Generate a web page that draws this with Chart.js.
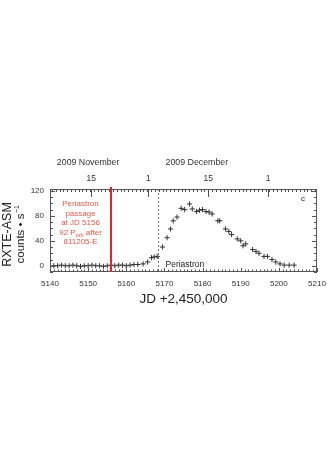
<!DOCTYPE html>
<html lang="en">
<head>
  <meta charset="UTF-8" />
  <title>RXTE-ASM light curve</title>
  <script src="https://cdn.jsdelivr.net/npm/chart.js"></script>
  <style>
    html, body { margin: 0; padding: 0; background: #fff; }
    #wrap { width: 327px; height: 463px; }
  </style>
</head>
<body>
<div id="wrap"><canvas id="asmChart" width="327" height="463"></canvas></div>
<script>
// JD - 2,450,000 and ASM count rates
const jd = [
  5141, 5142, 5143, 5144, 5145, 5146, 5147, 5148, 5149, 5150, 5151, 5152,
  5153, 5154, 5155, 5156, 5157, 5158, 5159, 5160, 5161, 5162, 5163,
  5164.4, 5165.6, 5166.6, 5167.3, 5168.1, 5169.5, 5170.7, 5171.6, 5172.3,
  5173.3, 5174.4, 5175.3, 5176.6, 5177.3, 5178.4, 5179.2, 5180.0, 5180.9,
  5181.7, 5182.5, 5184.0, 5184.5, 5186.0, 5186.9, 5187.6, 5189.1, 5190.0,
  5190.6, 5191.3, 5193.1, 5194.0, 5194.8, 5196.1, 5197.0, 5198.2, 5199.2,
  5200.3, 5201.4, 5202.7, 5204.0
];
const counts = [
  0, 0, 1, 0, 0, 1, 0, -1, 0, 0, 1, 0,
  0, -1, 0, 1, 0, 1, 1, 0, 1, 2, 2,
  3, 6, 13, 14, 15, 30, 45, 59, 72,
  78, 92, 90, 99, 91, 87, 89, 90, 87,
  86, 83, 72, 72, 59, 55, 50, 43, 40,
  32, 35, 26, 23, 20, 15, 15, 10, 6,
  3, 1, 1, 1
];

const xTicks = [5140, 5150, 5160, 5170, 5180, 5190, 5200, 5210];
const yTicks = [0, 40, 80, 120];
const topTickJD = [5150.8, 5165.8, 5181.5, 5197.2];
const topTickLabels = ['15', '1', '15', '1'];
const monthLabels = ['2009 November', '2009 December'];
const monthJD = [5150, 5178.5];
const redLineJD = 5156;
const periastronJD = 5168.2;
const noteLines = ['Periastron', 'passage', 'at JD 5156', '92 P|orb| after', '811205-E'];

const FONT = '"Liberation Sans", Arial, Helvetica, sans-serif';

const decorations = {
  id: 'decorations',
  afterDraw(chart) {
    const ctx = chart.ctx;
    const a = chart.chartArea;
    const x = chart.scales.x, y = chart.scales.y;
    ctx.save();

    // frame
    ctx.strokeStyle = '#555';
    ctx.lineWidth = 1;
    ctx.strokeRect(a.left + 0.5, a.top + 0.5, a.right - a.left - 1, a.bottom - a.top - 1);

    // minor ticks bottom / top
    ctx.beginPath();
    for (let v = 5140; v <= 5210; v++) {
      const px = Math.round(x.getPixelForValue(v)) + 0.5;
      const len = v % 10 === 0 ? 4 : 2.5;
      ctx.moveTo(px, a.bottom); ctx.lineTo(px, a.bottom - len);
    }
    for (let v = 5140.5; v < 5210; v++) {
      const px = Math.round(x.getPixelForValue(v)) + 0.5;
      ctx.moveTo(px, a.top); ctx.lineTo(px, a.top + 3);
    }
    topTickJD.forEach(v => {
      const px = Math.round(x.getPixelForValue(v)) + 0.5;
      ctx.moveTo(px, a.top); ctx.lineTo(px, a.top + 8);
    });
    for (let v = -10; v <= 120; v += 10) {
      const py = Math.round(y.getPixelForValue(v)) + 0.5;
      const len = v % 40 === 0 ? 5 : 3;
      ctx.moveTo(a.left, py); ctx.lineTo(a.left + len, py);
      ctx.moveTo(a.right, py); ctx.lineTo(a.right - len, py);
    }
    ctx.stroke();

    // periastron dotted line
    const pp = Math.round(x.getPixelForValue(periastronJD)) + 0.5;
    ctx.strokeStyle = '#777';
    ctx.setLineDash([2, 2]);
    ctx.beginPath();
    ctx.moveTo(pp, a.top); ctx.lineTo(pp, a.bottom);
    ctx.stroke();
    ctx.setLineDash([]);

    // red line
    const rp = Math.round(x.getPixelForValue(redLineJD));
    ctx.strokeStyle = '#e0262b';
    ctx.lineWidth = 2;
    ctx.beginPath();
    ctx.moveTo(rp, a.top - 2); ctx.lineTo(rp, a.bottom);
    ctx.stroke();

    // red note
    ctx.fillStyle = '#e25a4e';
    ctx.textBaseline = 'middle';
    const noteX = x.getPixelForValue(5148);
    noteLines.forEach((line, i) => {
      const ly = a.top + 15 + i * 9.5;
      const parts = line.split('|');
      ctx.font = '8px ' + FONT;
      if (parts.length === 1) {
        ctx.textAlign = 'center';
        ctx.fillText(line, noteX, ly);
      } else {
        const w0 = ctx.measureText(parts[0]).width;
        const w2 = ctx.measureText(parts[2]).width;
        ctx.font = '5.5px ' + FONT;
        const w1 = ctx.measureText(parts[1]).width;
        let sx = noteX - (w0 + w1 + w2) / 2;
        ctx.textAlign = 'left';
        ctx.font = '8px ' + FONT;
        ctx.fillText(parts[0], sx, ly);
        ctx.font = '5.5px ' + FONT;
        ctx.fillText(parts[1], sx + w0, ly + 2.5);
        ctx.font = '8px ' + FONT;
        ctx.fillText(parts[2], sx + w0 + w1, ly);
      }
    });

    // labels inside plot
    ctx.fillStyle = '#222';
    ctx.textAlign = 'left';
    ctx.font = '8.5px ' + FONT;
    ctx.fillText('Periastron', pp + 7, a.bottom - 7);
    ctx.font = '8px ' + FONT;
    ctx.fillText('c', a.right - 16, a.top + 10);

    // month labels
    ctx.fillStyle = '#333';
    ctx.textAlign = 'center';
    ctx.font = '8.8px ' + FONT;
    monthLabels.forEach((m, i) => ctx.fillText(m, x.getPixelForValue(monthJD[i]), 163));

    // y title
    const yc = (y.getPixelForValue(-10) + y.getPixelForValue(123)) / 2 + 4;
    ctx.translate(8, yc);
    ctx.rotate(-Math.PI / 2);
    ctx.fillStyle = '#222';
    ctx.font = '12.5px ' + FONT;
    ctx.fillText('RXTE-ASM', 0, 0);
    ctx.font = '11.5px ' + FONT;
    const t1 = 'counts \u2022 s';
    const w1 = ctx.measureText(t1).width;
    ctx.font = '7px ' + FONT;
    const w2 = ctx.measureText('\u22121').width;
    ctx.textAlign = 'left';
    ctx.font = '11.5px ' + FONT;
    ctx.fillText(t1, -(w1 + w2) / 2, 13);
    ctx.font = '7px ' + FONT;
    ctx.fillText('\u22121', -(w1 + w2) / 2 + w1 + 0.5, 9);

    ctx.restore();
  }
};

new Chart(document.getElementById('asmChart'), {
  type: 'scatter',
  data: {
    datasets: [{
      data: jd.map((v, i) => ({ x: v, y: counts[i] })),
      pointStyle: 'cross',
      pointRadius: 2.6,
      borderColor: '#333',
      borderWidth: 1,
      showLine: false
    }]
  },
  options: {
    responsive: false,
    animation: false,
    devicePixelRatio: 1,
    layout: { padding: { left: 0, right: 10, top: 150, bottom: 152 } },
    plugins: { legend: { display: false }, tooltip: { enabled: false } },
    scales: {
      x: {
        type: 'linear', position: 'bottom', min: 5140, max: 5210,
        afterBuildTicks: s => { s.ticks = xTicks.map(v => ({ value: v })); },
        afterFit: s => { s.height = 39; s.paddingRight = 0; s.paddingLeft = 0; },
        grid: { display: false, drawTicks: false },
        border: { display: false },
        ticks: { autoSkip: false, maxRotation: 0, padding: 7, color: '#333',
                 font: { family: FONT, size: 8 }, callback: v => String(v) },
        title: { display: true, text: 'JD +2,450,000', color: '#222',
                 font: { family: FONT, size: 13.5 } }
      },
      xTop: {
        type: 'linear', position: 'top', min: 5140, max: 5210,
        afterBuildTicks: s => { s.ticks = topTickJD.map(v => ({ value: v })); },
        afterFit: s => { s.height = 39; s.paddingRight = 0; s.paddingLeft = 0; },
        grid: { display: false, drawTicks: false },
        border: { display: false },
        ticks: { autoSkip: false, maxRotation: 0, padding: 5, color: '#333',
                 font: { family: FONT, size: 8.5 }, callback: (v, i) => topTickLabels[i] }
      },
      y: {
        type: 'linear', position: 'left', min: -10, max: 123,
        afterBuildTicks: s => { s.ticks = yTicks.map(v => ({ value: v })); },
        afterFit: s => { s.width = 50; s.paddingTop = 0; s.paddingBottom = 0; },
        grid: { display: false, drawTicks: false },
        border: { display: false },
        ticks: { padding: 6, color: '#333', font: { family: FONT, size: 8 } }
      }
    }
  },
  plugins: [decorations]
});
</script>
</body>
</html>
